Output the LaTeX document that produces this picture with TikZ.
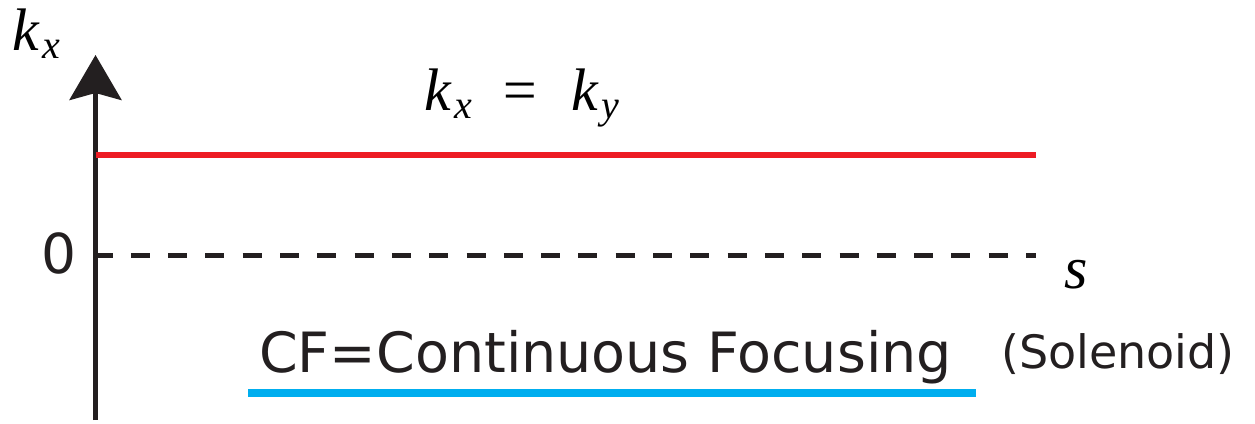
\documentclass[tikz,border=0pt]{standalone}
\usepackage{fontspec}
\setmainfont{DejaVu Sans}
\newfontfamily\timesit{Liberation Serif}[ItalicFont=*,UprightFont=* Italic]
\usetikzlibrary{arrows.meta}
\definecolor{axisblack}{RGB}{35,31,32}
\definecolor{kred}{RGB}{237,28,36}
\definecolor{cfblue}{RGB}{0,174,239}
\newcommand{\ksub}[1]{k\kern4pt\raisebox{-8pt}{\fontsize{40}{40}\selectfont #1}}
\tikzset{
  axisline/.style={line width=5pt, axisblack, -{Stealth[length=45pt,width=52pt,inset=7pt]}},
  kline/.style={line width=6pt, kred},
  zeroline/.style={line width=5pt, axisblack, dash pattern=on 19pt off 18.3pt, dash phase=2pt},
  cfline/.style={line width=8pt, cfblue},
  symlabel/.style={inner sep=0pt, font=\timesit\fontsize{60}{60}\selectfont},
  txtlabel/.style={inner sep=0pt, text=axisblack, font=\fontsize{55}{55}\selectfont}
}
\begin{document}
\begin{tikzpicture}[x=1pt,y=-1pt]
\useasboundingbox (0,0) rectangle (1255,423);
% axes
\coordinate (origin) at (95.5,255);
\coordinate (bottom) at (95.5,420);
\coordinate (top) at (95.5,55);
\draw[axisline] (bottom) -- (top);
\node[symlabel, anchor=base west] (kxlabel) at (12,50) {\ksub{x}};
\node[txtlabel, anchor=center] (zero) at (59,253) {0};
\coordinate (send) at (1036,255);
\draw[zeroline] (origin) -- (send);
\node[symlabel, anchor=base] (slabel) at (1076,288) {s};
% k_x = k_y
\coordinate (kstart) at (95.5,155);
\coordinate (kend) at (1036,155);
\draw[kline] (kstart) -- (kend);
\node[symlabel, anchor=base west] (keq) at (424,110) {\ksub{x}\hspace{27pt}=\hspace{31pt}\ksub{y}};
% continuous focusing
\node[txtlabel, anchor=base west, font=\fontsize{55.5}{55.5}\selectfont] (cf) at (259,372) {CF=Continuous Focusing};
\node[txtlabel, anchor=base west, font=\fontsize{46}{46}\selectfont] (sol) at (1001,368) {(Solenoid)};
\coordinate (cfstart) at (248,393);
\coordinate (cfend) at (976,393);
\draw[cfline] (cfstart) -- (cfend);
\end{tikzpicture}
\end{document}
